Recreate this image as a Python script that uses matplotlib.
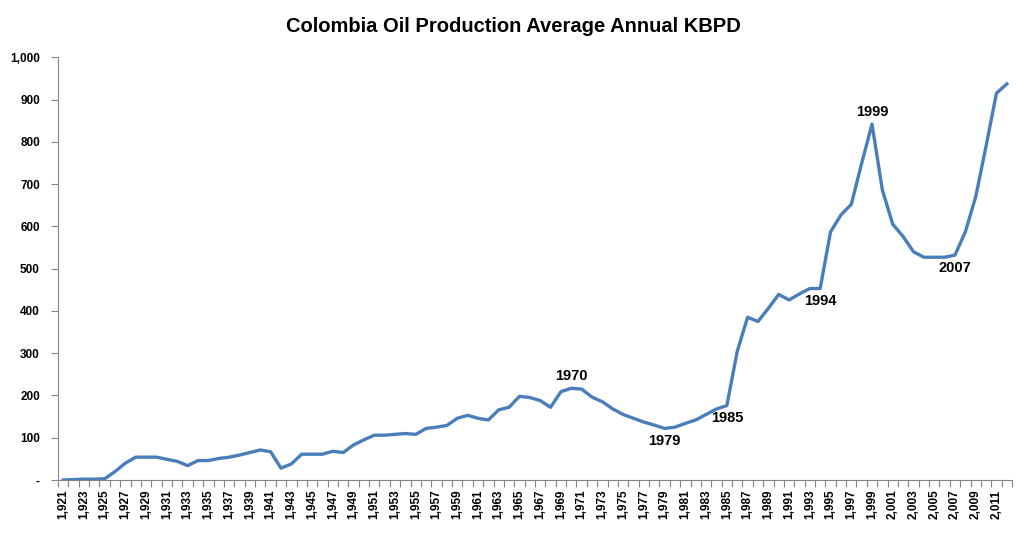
import numpy as np
import matplotlib
matplotlib.use("Agg")
import matplotlib.pyplot as plt
from matplotlib.ticker import FuncFormatter

# ======================================================
# Data: Colombia oil production, average annual KBPD
# ======================================================
years = list(range(1921, 2013))
kbpd = [
    0, 1, 2, 2, 3, 20, 40, 54, 54, 54,            # 1921-1930
    49, 44, 34, 46, 46, 51, 54, 59, 65, 71,       # 1931-1940
    67, 28, 38, 61, 61, 61, 68, 65, 83, 95,       # 1941-1950
    106, 106, 108, 110, 108, 122, 125, 129, 146, 153,  # 1951-1960
    146, 142, 166, 172, 198, 195, 188, 172, 209, 217,  # 1961-1970
    215, 196, 185, 168, 155, 146, 137, 130, 122, 125,  # 1971-1980
    134, 142, 155, 168, 176, 304, 385, 375, 406, 439,  # 1981-1990
    426, 440, 453, 453, 587, 627, 652, 749, 842, 686,  # 1991-2000
    605, 576, 540, 527, 527, 527, 532, 587, 670, 790,  # 2001-2010
    915, 937,                                          # 2011-2012
]
highlight_years = [1970, 1979, 1985, 1994, 1999, 2007]
highlight_above = [True, False, False, False, True, False]

title = "Colombia Oil Production Average Annual KBPD"

# ======================================================
# Plot
# ======================================================
plt.rcParams["font.family"] = ["Liberation Sans", "DejaVu Sans"]

fig = plt.figure(figsize=(10.27, 5.35), dpi=100)
ax = fig.add_axes([58 / 1027, (535 - 480) / 535, (1012 - 58) / 1027, (480 - 57.3) / 535])

x = np.arange(len(years))
ax.plot(x, kbpd, color="#4A7EBB", lw=2.4, solid_joinstyle="round")

for yr, above in zip(highlight_years, highlight_above):
    i = years.index(yr)
    off = 4 if above else -4
    ax.annotate(str(yr), (x[i], kbpd[i]), xytext=(0, off), textcoords="offset points",
                ha="center", va="bottom" if above else "top",
                fontsize=10.5, fontweight="bold")

ax.set_xlim(-0.5, len(years) - 0.5)
ax.set_ylim(0, 1000)
ax.set_yticks(range(0, 1001, 100))
ax.yaxis.set_major_formatter(FuncFormatter(lambda v, p: "-" if v == 0 else f"{int(v):,}"))

# category axis: tick marks between categories, labels on odd years
ax.set_xticks(np.arange(len(years) + 1) - 0.5, minor=False)
ax.set_xticklabels([])
lab_idx = [i for i, yr in enumerate(years) if yr % 2 == 1]
ax.set_xticks(lab_idx, minor=True)
ax.set_xticklabels([f"{years[i]:,}" for i in lab_idx], minor=True, rotation=90,
                   fontsize=8.5, fontweight="bold")
ax.tick_params(axis="x", which="minor", length=0, pad=7)
ax.tick_params(axis="x", which="major", length=5, color="#868686", direction="out")
ax.tick_params(axis="y", length=5, color="#868686", labelsize=8.5, pad=8)
for lab in ax.get_yticklabels():
    lab.set_fontweight("bold")

for s in ["top", "right"]:
    ax.spines[s].set_visible(False)
for s in ["left", "bottom"]:
    ax.spines[s].set_color("#868686")

fig.text(0.5, 1 - 26 / 535, title, ha="center", va="center",
         fontsize=14.5, fontweight="bold")

fig.savefig("out.png", dpi=100)
